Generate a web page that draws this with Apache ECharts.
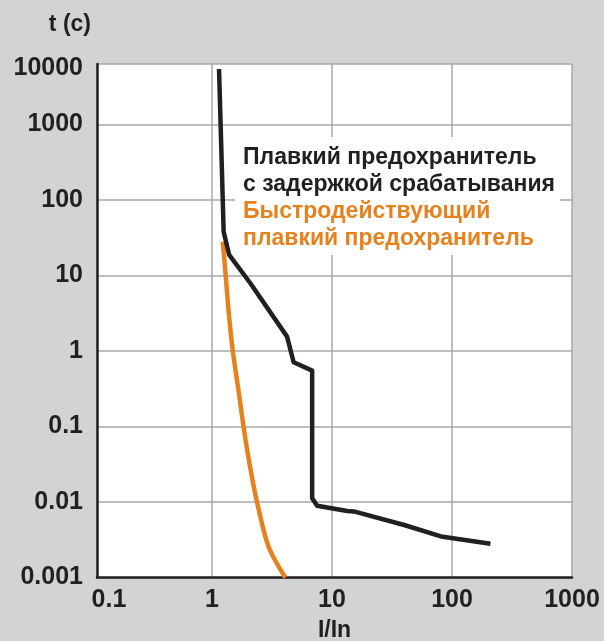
<!DOCTYPE html>
<html>
<head>
<meta charset="utf-8">
<script src="https://cdn.jsdelivr.net/npm/echarts@6/dist/echarts.min.js"></script>
<style>
html,body{margin:0;padding:0;background:#d1d3d4;}
#chart{width:604px;height:641px;}
</style>
</head>
<body>
<div id="chart"></div>
<script>
// Delayed-action (slow-blow) fuse: I/In vs t (s)
const slowX = [1.144, 1.196, 1.25, 1.39, 2.08, 4.22, 4.79, 6.83, 6.83, 7.52, 13.4, 15.2, 39.9, 80.9, 209];
const slowY = [5430, 459, 38, 18.7, 7.95, 1.55, 0.71, 0.55, 0.0112, 0.0089, 0.0076, 0.0075, 0.00496, 0.0035, 0.0028];
// Fast-acting fuse
const fastX = [1.23, 1.30, 1.38, 1.49, 1.66, 1.83, 2.05, 2.37, 2.96, 4.08];
const fastY = [28, 10, 3.16, 1, 0.304, 0.1, 0.0326, 0.01, 0.00256, 0.001];

const xTickLabels = {'-1':'0.1','0':'1','1':'10','2':'100','3':'1000'};
const yTickLabels = {'-3':'0.001','-2':'0.01','-1':'0.1','0':'1','1':'10','2':'100','3':'1000','4':'10000'};

const legendLines = [
  {text:'Плавкий предохранитель', color:'#231f20'},
  {text:'с задержкой срабатывания', color:'#231f20'},
  {text:'Быстродействующий', color:'#e5821e'},
  {text:'плавкий предохранитель', color:'#e5821e'}
];

const FONT = '"Liberation Sans", Arial, sans-serif';
const chart = echarts.init(document.getElementById('chart'));

const pairs = (xs, ys) => xs.map((x, i) => [x, ys[i]]);
const lbl = {fontFamily: FONT, fontWeight: 'bold', fontSize: 25, color: '#231f20'};

chart.setOption({
  backgroundColor: '#d1d3d4',
  animation: false,
  grid: {left: 97, right: 32, top: 64, bottom: 63.5, show: true, backgroundColor: '#ffffff', borderWidth: 0, outerBoundsMode: 'none', containLabel: false},
  xAxis: {
    type: 'log', logBase: 10, min: 0.11, max: 1000,
    name: 'I/In', nameLocation: 'middle', nameGap: 42,
    nameTextStyle: {fontFamily: FONT, fontWeight: 'bold', fontSize: 23, color: '#231f20'},
    axisLine: {show: true, onZero: false, lineStyle: {color: '#231f20', width: 2.5}},
    axisTick: {show: false},
    splitLine: {show: true, lineStyle: {color: '#a7a9ac', width: 1.5}},
    axisLabel: Object.assign({
      margin: 10,
      formatter: v => {
        const e = Math.round(Math.log10(v));
        return e === -1 ? '{first|' + xTickLabels[e] + '}' : xTickLabels[e];
      },
      rich: {first: Object.assign({padding: [0, 0, 0, 24]}, lbl)}
    }, lbl)
  },
  yAxis: {
    type: 'log', logBase: 10, min: 0.001, max: 6324,
    name: 't (c)', nameLocation: 'end', nameGap: 28,
    nameTextStyle: {fontFamily: FONT, fontWeight: 'bold', fontSize: 23, color: '#231f20', align: 'right', padding: [0, 6, 0, 0]},
    axisLine: {show: true, onZero: false, lineStyle: {color: '#231f20', width: 2.5}},
    axisTick: {show: false},
    splitLine: {show: true, lineStyle: {color: '#a7a9ac', width: 1.5}},
    axisLabel: Object.assign({
      margin: 14,
      formatter: v => {
        const e = Math.round(Math.log10(v));
        return e === 4 ? '{top|' + yTickLabels[e] + '}' : (yTickLabels[e] || '');
      },
      rich: {top: Object.assign({padding: [8, 0, 0, 0]}, lbl)}
    }, lbl)
  },
  series: [
    {
      type: 'line', data: pairs(slowX, slowY), showSymbol: false, symbol: 'none',
      lineStyle: {color: '#231f20', width: 4.5, join: 'round'}, z: 3
    },
    {
      type: 'line', data: pairs(fastX, fastY), showSymbol: false, symbol: 'none', smooth: 0.3,
      lineStyle: {color: '#e5821e', width: 4.5}, z: 2
    }
  ],
  graphic: {
    elements: [
      {type: 'rect', x: 235, y: 137, z: 100, shape: {x: 0, y: 0, width: 325, height: 118, r: 8}, style: {fill: '#ffffff'}}
    ].concat(legendLines.map((l, i) => ({
      type: 'text', x: 243, y: 146 + i * 27, z: 101,
      style: {text: l.text, fill: l.color, font: 'bold 23px ' + FONT}
    })))
  }
});
</script>
</body>
</html>
